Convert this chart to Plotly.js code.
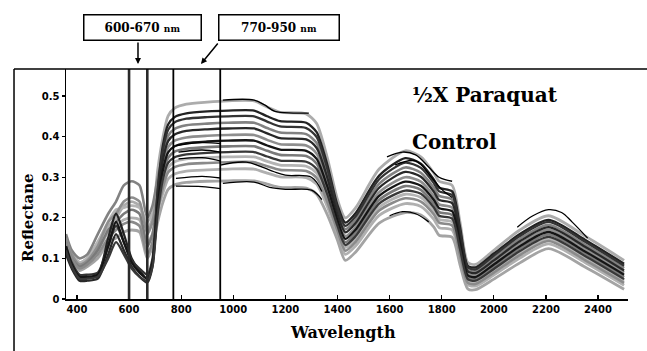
<!DOCTYPE html>
<html><head><meta charset="utf-8">
<script src="https://cdn.plot.ly/plotly-3.0.1.min.js"></script>
<style>html,body{margin:0;padding:0;background:#fff;}#chart{width:647px;height:351px;}</style>
</head><body><div id="chart"></div>
<script>
// wavelengths (nm) at which each spectrum is sampled
const wavelengths = [358,380,410,440,480,520,550,580,610,640,670,690,710,730,750,775,820,900,980,1080,1130,1180,1280,1320,1360,1400,1430,1470,1560,1660,1720,1770,1790,1840,1870,1900,1930,2000,2100,2210,2350,2500];

// reflectance spectra
const c1  = [.15,.11,.09,.10,.14,.18,.20,.23,.24,.23,.17,.20,.318,.398,.451,.470,.480,.485,.488,.488,.473,.460,.456,.432,.350,.245,.200,.225,.320,.365,.350,.310,.290,.280,.190,.090,.085,.120,.170,.205,.155,.095];
const c2  = [.12,.08,.05,.052,.058,.15,.21,.16,.10,.07,.05,.09,.269,.379,.43,.448,.457,.462,.464,.464,.450,.438,.434,.411,.333,.231,.188,.212,.304,.347,.333,.294,.274,.265,.178,.082,.078,.112,.160,.195,.146,.087];
const c3  = [.13,.09,.06,.06,.065,.13,.18,.14,.095,.075,.06,.10,.264,.367,.417,.435,.444,.448,.450,.450,.437,.425,.421,.399,.323,.224,.180,.204,.295,.336,.323,.285,.265,.256,.170,.078,.073,.107,.155,.190,.141,.082];
const c4  = [.16,.12,.10,.11,.16,.21,.24,.28,.29,.28,.20,.23,.298,.354,.402,.419,.428,.432,.434,.434,.421,.410,.406,.384,.311,.216,.172,.195,.284,.324,.311,.274,.254,.245,.162,.072,.068,.101,.148,.183,.134,.076];
const c5  = [.11,.075,.045,.045,.05,.11,.16,.12,.08,.055,.04,.08,.242,.343,.389,.405,.414,.418,.420,.420,.408,.396,.393,.372,.301,.209,.164,.187,.274,.313,.301,.264,.244,.236,.154,.068,.064,.095,.142,.177,.129,.070];
const c6  = [.15,.11,.085,.095,.13,.19,.21,.24,.25,.24,.16,.19,.269,.330,.374,.390,.398,.402,.404,.404,.392,.381,.378,.358,.289,.201,.155,.178,.263,.300,.289,.253,.233,.225,.145,.062,.059,.090,.136,.171,.123,.065];
const c7  = [.13,.085,.055,.055,.06,.13,.19,.14,.09,.065,.05,.09,.228,.318,.361,.376,.384,.388,.390,.390,.378,.368,.365,.345,.279,.194,.148,.171,.254,.289,.279,.244,.224,.216,.138,.058,.054,.085,.130,.165,.117,.060];
const c8  = [.14,.10,.08,.09,.12,.17,.19,.21,.22,.21,.13,.16,.245,.307,.348,.363,.370,.374,.376,.376,.365,.355,.352,.333,.269,.187,.140,.163,.244,.278,.269,.234,.214,.207,.130,.053,.050,.079,.124,.159,.112,.054];
const c9  = [.12,.08,.05,.05,.055,.10,.14,.11,.075,.055,.045,.08,.211,.295,.335,.349,.356,.360,.362,.362,.351,.341,.338,.320,.259,.180,.133,.155,.235,.267,.259,.225,.205,.198,.123,.049,.045,.074,.118,.153,.106,.049];
const c10 = [.15,.11,.09,.10,.14,.19,.22,.225,.23,.225,.19,.21,.248,.285,.324,.338,.345,.348,.350,.350,.339,.330,.327,.310,.250,.174,.127,.148,.226,.258,.250,.216,.196,.190,.117,.045,.042,.070,.113,.148,.102,.045];
const c11 = [.14,.10,.075,.085,.11,.15,.17,.185,.19,.18,.11,.14,.217,.275,.312,.325,.332,.335,.337,.337,.327,.318,.315,.298,.241,.168,.119,.141,.218,.248,.240,.208,.188,.181,.109,.040,.037,.065,.108,.143,.096,.040];
const c12 = [.14,.10,.08,.09,.12,.165,.18,.195,.20,.195,.14,.16,.217,.261,.296,.308,.315,.318,.320,.320,.310,.301,.299,.283,.229,.159,.110,.131,.206,.235,.228,.196,.176,.170,.100,.035,.032,.059,.101,.136,.090,.034];
const c13 = [.13,.095,.07,.08,.10,.14,.15,.165,.17,.165,.10,.13,.19,.238,.27,.281,.287,.290,.291,.291,.283,.275,.273,.258,.209,.145,.095,.116,.187,.213,.207,.177,.157,.152,.085,.025,.023,.049,.089,.124,.079,.024];

// thin black partial traces (x = wavelength, y = reflectance)
const t1x = [780,880,950],  t1y = [.378,.385,.383];
const t2x = [790,880,950],  t2y = [.362,.367,.362];
const t3x = [790,880,950],  t3y = [.345,.348,.340];
const t4x = [780,880,950],  t4y = [.297,.302,.298];
const t5x = [780,880,950],  t5y = [.278,.277,.272];
const t6x = [960,1080,1120,1160,1230,1290], t6y = [.490,.490,.478,.462,.458,.458];
const t7x = [950,1050,1150,1200,1300,1340], t7y = [.330,.337,.315,.305,.300,.265];
const t8x = [960,1080,1140,1200,1300,1340], t8y = [.285,.288,.275,.270,.268,.245];
const t9x = [1590,1650,1700,1750,1790,1840], t9y = [.350,.362,.355,.325,.300,.290];
const t10x = [1620,1700,1760,1800,1840], t10y = [.330,.340,.300,.270,.250];
const t11x = [1600,1650,1700,1750], t11y = [.205,.215,.210,.190];
const t12x = [2090,2150,2210,2260,2300,2360], t12y = [.177,.205,.220,.213,.190,.150];

// axis ticks
const xTicks = [400,600,800,1000,1200,1400,1600,1800,2000,2200,2400];
const yTicks = [0,0.1,0.2,0.3,0.4,0.5];
const yTickText = ['0','0.1','0.2','0.3','0.4','0.5'];
// marked band limits (nm)
const bandLines = [600,670,770,950];

const lightSet = [[c1,'#acacac'],[c10,'#b4b4b4'],[c12,'#b0b0b0'],[c13,'#a4a4a4']];
const greySet  = [[c4,'#828282'],[c6,'#8e8e8e'],[c8,'#7a7a7a'],[c11,'#8a8a8a']];
const darkSet  = [[c2,'#222'],[c3,'#333'],[c5,'#282828'],[c7,'#151515'],[c9,'#383838']];

const traces = [];
function addCurve(y, color, w){
  traces.push({x: wavelengths, y: y, type:'scatter', mode:'lines',
    line:{color: color, width: w, shape:'spline', smoothing:0.7}, hoverinfo:'skip', showlegend:false});
}
lightSet.forEach(([y,c]) => addCurve(y,c,2.8));
greySet.forEach(([y,c]) => addCurve(y,c,2.6));
darkSet.forEach(([y,c]) => addCurve(y,c,2.3));
[[t1x,t1y],[t2x,t2y],[t3x,t3y],[t4x,t4y],[t5x,t5y],[t6x,t6y],[t7x,t7y],[t8x,t8y],[t9x,t9y],[t10x,t10y],[t11x,t11y],[t12x,t12y]].forEach(([x,y]) => {
  traces.push({x:x, y:y, type:'scatter', mode:'lines', line:{color:'#000', width:1.3, shape:'spline'}, hoverinfo:'skip', showlegend:false});
});

const shapes = bandLines.map((w,i) => ({type:'line', xref:'x', yref:'paper', x0:w, x1:w, y0:0, y1:1,
  line:{color: i<2 ? '#2a2a2a' : '#000', width: i<2 ? 2.6 : 1.8}, layer:'above'}));
// outer frame of the figure
shapes.push({type:'line', xref:'paper', yref:'paper', x0:-0.0925, x1:1.04, y0:1, y1:1, line:{color:'#000', width:1.5}});
shapes.push({type:'line', xref:'paper', yref:'paper', x0:-0.0925, x1:-0.0925, y0:1, y1:-0.3, line:{color:'#000', width:1.5}});

const serif = 'DejaVu Serif, Liberation Serif, serif';
const annotations = [
  {xref:'paper', yref:'paper', x:0.1361, y:1.1804, xanchor:'center', yanchor:'middle', showarrow:false,
   text:'<b>600-670 <span style="font-size:9px">nm</span></b>', font:{family:serif, size:12, color:'#000'},
   bordercolor:'#000', borderwidth:1.5, borderpad:1, width:114, height:22, bgcolor:'#fff'},
  {xref:'paper', yref:'paper', x:0.379, y:1.1804, xanchor:'center', yanchor:'middle', showarrow:false,
   text:'<b>770-950 <span style="font-size:9px">nm</span></b>', font:{family:serif, size:12, color:'#000'},
   bordercolor:'#000', borderwidth:1.5, borderpad:1, width:117, height:22, bgcolor:'#fff'},
  {xref:'paper', yref:'paper', x:0.1281, y:1.0217, ax:0, ay:-23, text:'', showarrow:true,
   arrowhead:2, arrowsize:0.8, arrowwidth:1.5, arrowcolor:'#000'},
  {xref:'paper', yref:'paper', x:0.2402, y:1.0217, ax:18, ay:-22, text:'', showarrow:true,
   arrowhead:2, arrowsize:0.8, arrowwidth:1.5, arrowcolor:'#000'},
  {xref:'paper', yref:'paper', x:0.612, y:0.887, xanchor:'left', yanchor:'middle', showarrow:false,
   text:'<b>½X Paraquat</b>', font:{family:serif, size:20, color:'#000'}},
  {xref:'paper', yref:'paper', x:0.612, y:0.683, xanchor:'left', yanchor:'middle', showarrow:false,
   text:'<b>Control</b>', font:{family:serif, size:20, color:'#000'}},
  {xref:'paper', yref:'paper', x:-0.0676, y:0.352, xanchor:'center', yanchor:'middle', showarrow:false, textangle:-90,
   text:'<b>Reflectane</b>', font:{family:serif, size:15, color:'#000'}},
  {xref:'paper', yref:'paper', x:0.493, y:-0.1435, xanchor:'center', yanchor:'middle', showarrow:false,
   text:'<b>Wavelength</b>', font:{family:serif, size:16, color:'#000'}}
];

const tickFont = {family:'DejaVu Sans, sans-serif', size:10, color:'#000', weight:'bold'};
const layout = {
  width:647, height:351,
  margin:{l:66, r:19, t:69, b:52},
  paper_bgcolor:'#fff', plot_bgcolor:'#fff',
  showlegend:false,
  xaxis:{range:[358,2515], tickvals:xTicks, ticktext:xTicks.map(String), ticks:'inside', ticklen:4, tickwidth:1.2,
    tickcolor:'#000', showline:true, linecolor:'#000', linewidth:1.5, showgrid:false, zeroline:false, tickfont:tickFont},
  yaxis:{range:[0,0.5665], tickvals:yTicks, ticktext:yTickText, ticks:'outside', ticklen:3, tickwidth:1.2,
    tickcolor:'#000', showline:true, linecolor:'#000', linewidth:1.5, showgrid:false, zeroline:false, tickfont:tickFont},
  yaxis2:{range:[0,0.5665], tickvals:yTicks, overlaying:'y', side:'right', anchor:'x', showticklabels:false,
    ticks:'inside', ticklen:4, tickwidth:1.2, tickcolor:'#000', showline:true, linecolor:'#000', linewidth:1.3,
    showgrid:false, zeroline:false},
  shapes: shapes,
  annotations: annotations
};
Plotly.newPlot('chart', traces, layout, {displayModeBar:false, staticPlot:true});
</script>
</body></html>
